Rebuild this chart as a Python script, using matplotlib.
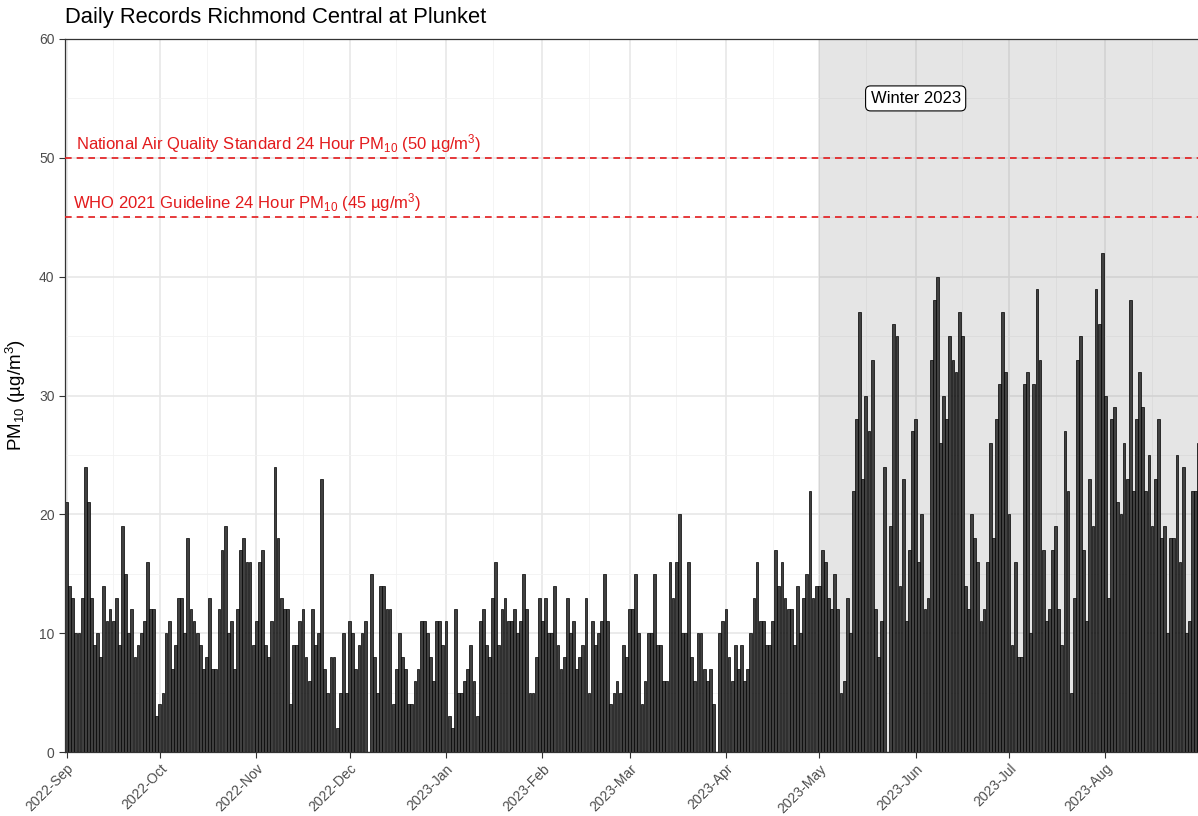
import numpy as np
import pandas as pd
import matplotlib
matplotlib.use("Agg")
import matplotlib.pyplot as plt
import matplotlib.dates as mdates

plt.rcParams['font.family'] = ['Liberation Sans', 'DejaVu Sans']
plt.rcParams['mathtext.fontset'] = 'custom'
plt.rcParams['mathtext.rm'] = 'Liberation Sans'
plt.rcParams['mathtext.it'] = 'Liberation Sans:italic'
plt.rcParams['mathtext.bf'] = 'Liberation Sans:bold'

# Daily PM10 (µg/m³), 1 Sep 2022 - 31 Aug 2023; NaN = no record
nan = np.nan
pm10_sep = [21, 14, 13, 10, 10, 13, 24, 21, 13, 9, 10, 8, 14, 11, 12, 11, 13, 9, 19, 15,
            10, 12, 8, 9, 10, 11, 16, 12, 12, 3]
pm10_oct = [4, 5, 10, 11, 7, 9, 13, 13, 10, 18, 12, 11, 10, 9, 7, 8, 13, 7, 7, 12,
            17, 19, 10, 11, 7, 12, 17, 18, 16, 16, 9]
pm10_nov = [11, 16, 17, 9, 8, 11, 24, 18, 13, 12, 12, 4, 9, 9, 11, 12, 8, 6, 12, 9,
            10, 23, 7, 5, 8, 8, 2, 5, 10, 5]
pm10_dec = [11, 10, 7, 9, 10, 11, nan, 15, 8, 5, 14, 14, 12, 12, 4, 7, 10, 8, 7, 4,
            4, 6, 7, 11, 11, 10, 8, 6, 11, 11, 9]
pm10_jan = [11, 3, 2, 12, 5, 5, 6, 7, 9, 6, 3, 11, 12, 9, 8, 13, 16, 9, 12, 13,
            11, 11, 12, 10, 11, 15, 12, 5, 5, 8, 13]
pm10_feb = [11, 13, 10, 10, 14, 9, 7, 8, 13, 10, 11, 7, 8, 9, 13, 5, 11, 9, 10, 11,
            15, 11, 4, 5, 6, 5, 9, 8]
pm10_mar = [12, 12, 15, 10, 4, 6, 10, 10, 15, 9, 9, 6, 6, 16, 13, 16, 20, 10, 10, 16,
            8, 6, 10, 10, 7, 6, 7, 4, nan, 10, 11]
pm10_apr = [12, 8, 6, 9, 7, 9, 6, 7, 10, 13, 16, 11, 11, 9, 9, 11, 17, 14, 16, 13,
            12, 12, 9, 14, 10, 13, 15, 22, 13, 14]
pm10_may = [14, 17, 16, 13, 12, 15, 12, 5, 6, 13, 10, 22, 28, 37, 23, 30, 27, 33, 12, 8,
            11, 24, nan, 19, 36, 35, 14, 23, 11, 17, 27]
pm10_jun = [28, 16, 20, 12, 13, 33, 38, 40, 26, 30, 28, 35, 33, 32, 37, 35, 14, 12, 20, 18,
            16, 11, 12, 16, 26, 18, 28, 31, 37, 32]
pm10_jul = [20, 9, 16, 8, 8, 31, 32, 10, 31, 39, 33, 17, 11, 12, 17, 19, 12, 9, 27, 22,
            5, 13, 33, 35, 17, 11, 23, 19, 39, 36, 42]
pm10_aug = [30, 13, 28, 29, 21, 20, 26, 23, 38, 22, 28, 32, 29, 22, 25, 19, 23, 28, 18, 19,
            10, 18, 18, 25, 16, 24, 10, 11, 22, 22, 26]

pm10 = (pm10_sep + pm10_oct + pm10_nov + pm10_dec + pm10_jan + pm10_feb +
        pm10_mar + pm10_apr + pm10_may + pm10_jun + pm10_jul + pm10_aug)
dates = pd.date_range("2022-09-01", periods=len(pm10), freq="D")

nes_limit = 50
who_limit = 45
winter_start = pd.Timestamp("2023-05-01")
winter_label_date = pd.Timestamp("2023-06-01")
winter_label_y = 55

title = "Daily Records Richmond Central at Plunket"
ylabel = "PM$_{10}$ (µg/m$^3$)"
nes_text = "National Air Quality Standard 24 Hour PM$_{10}$ (50 µg/m$^3$)"
who_text = "WHO 2021 Guideline 24 Hour PM$_{10}$ (45 µg/m$^3$)"

W, H = 1198, 816
fig = plt.figure(figsize=(W / 100, H / 100), dpi=100)
ax = fig.add_axes([65 / W, 64 / H, (W - 65) / W + 0.001, (752 - 39) / H])

x0 = dates[0] - pd.Timedelta(hours=12)
x1 = dates[-1] + pd.Timedelta(hours=4)

# grid
ax.set_axisbelow(True)
ax.set_ylim(0, 60)
ax.set_xlim(x0, x1)
ax.set_yticks(np.arange(0, 61, 10))
ax.set_yticks(np.arange(5, 60, 10), minor=True)
month_ticks = pd.date_range("2022-09-01", "2023-08-01", freq="MS")
ax.set_xticks(month_ticks)
mid_ticks = month_ticks + pd.Timedelta(days=15)
ax.set_xticks(mid_ticks, minor=True)
ax.grid(which="major", color="#E6E6E6", linewidth=1.1)
ax.grid(which="minor", color="#F2F2F2", linewidth=0.6)

# winter shading
ax.axvspan(winter_start, x1, color="#7F7F7F", alpha=0.2, linewidth=0, zorder=1)

# bars
ax.bar(dates, pm10, width=0.9, color="#404040", edgecolor="black",
       linewidth=0.5, zorder=2)

# guideline lines
red = "#E31A1C"
ax.axhline(nes_limit, color=red, linestyle=(0, (4, 3)), linewidth=1.2, zorder=3)
ax.axhline(who_limit, color=red, linestyle=(0, (4, 3)), linewidth=1.2, zorder=3)
ax.text(dates[3], nes_limit + 0.25, nes_text, color=red, fontsize=12,
        ha="left", va="bottom", zorder=4)
ax.text(dates[2], who_limit + 0.25, who_text, color=red, fontsize=12,
        ha="left", va="bottom", zorder=4)

ax.text(winter_label_date, winter_label_y, "Winter 2023", fontsize=12,
        ha="center", va="center", zorder=5,
        bbox=dict(boxstyle="round,pad=0.3,rounding_size=0.3", fc="white",
                  ec="black", lw=0.8))

# axes styling
for side in ["left", "top", "bottom"]:
    ax.spines[side].set_color("#333333")
    ax.spines[side].set_linewidth(0.9)
ax.spines["right"].set_visible(False)

ax.xaxis.set_major_formatter(mdates.DateFormatter("%Y-%b"))
ax.tick_params(axis="both", which="major", length=4, width=0.8, color="#333333",
               labelcolor="#4D4D4D", labelsize=10)
ax.tick_params(axis="both", which="minor", length=0)
plt.setp(ax.get_xticklabels(), rotation=45, ha="right", rotation_mode="anchor")
ax.tick_params(axis="x", pad=3)

ax.set_ylabel(ylabel, fontsize=13.5, color="black", labelpad=8)
fig.text(65 / W, 1 - 18 / H, title, fontsize=15.8, ha="left", va="center")

fig.savefig("out.png", dpi=100)
